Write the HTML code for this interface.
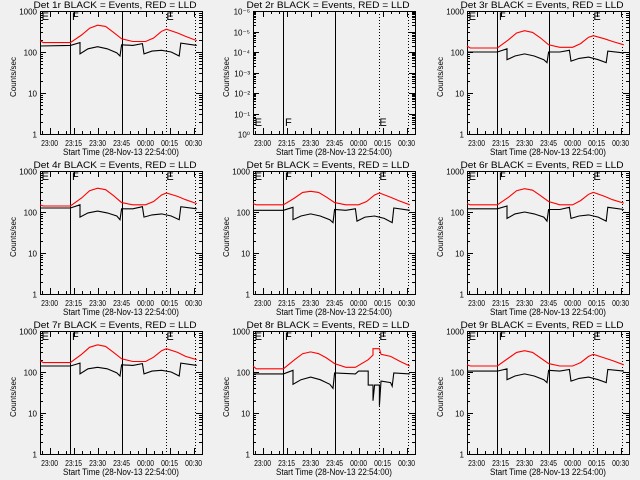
<!DOCTYPE html>
<html><head><meta charset="utf-8"><style>
html,body{margin:0;padding:0;background:#f0f0f0;}
svg{display:block;font-family:"Liberation Sans",sans-serif;}
</style></head><body>
<svg id="chart" width="640" height="480" viewBox="0 0 640 480">
<rect width="640" height="480" fill="#f0f0f0"/>
</svg>
<script>
// Time in minutes since start (22:54:00)
const xTickMinutes = [6, 21, 36, 51, 66, 81, 96];
const xTickLabels = ["23:00", "23:15", "23:30", "23:45", "00:00", "00:15", "00:30"];
const yTickValues = [1, 10, 100, 1000];
const yTickLabels = ["1", "10", "100", "1000"];
const panel2TickLabels = ["10\u2070", "10\u207B\u00B9", "10\u207B\u00B2", "10\u207B\u00B3", "10\u207B\u2074", "10\u207B\u2075", "10\u207B\u2076"];
const detNames = ["1r", "2r", "3r", "4r", "5r", "6r", "7r", "8r", "9r"];
const solidMarkers = [18.75, 51.25];
const dottedMarkers = [78.75, 96.9];
const eventLabels = ["E", "F", "E"];
const eventLabelMinutes = [1, 20, 79];

const redT = [0,2,19,26,31,36,41,46,51,58,66,71,76,79,86,91,98];
const blackT = [0,19,25,25,30,36,42,48,50,51,58,64,65,70,76,82,87,88,98];
const red1 = [190,170,170,260,380,450,420,300,210,180,180,220,320,360,290,240,190];
const black1 = [140,145,170,90,120,135,120,95,80,150,145,160,90,105,110,100,80,165,145];
const red3 = [140,125,125,200,290,330,300,220,150,130,130,160,230,250,210,180,150];
const black3 = [100,100,120,65,80,90,80,65,55,100,100,110,60,70,75,65,55,105,95];
const red4 = [150,140,140,220,330,380,350,250,170,150,150,180,260,290,240,200,160];
const black4 = [125,125,150,75,95,105,95,80,65,120,120,135,75,85,90,80,65,135,120];
const red5 = [160,150,150,220,300,320,300,230,170,150,150,180,260,290,230,190,150];
const black5 = [110,110,130,65,80,90,80,65,55,115,110,120,60,75,80,70,55,125,110];
const red6 = [160,150,150,230,330,370,340,250,180,150,150,190,270,300,240,200,165];
const black6 = [120,120,140,70,90,100,90,75,60,115,115,130,70,80,85,75,60,130,115];
const red7 = [190,170,170,270,400,460,420,300,210,180,180,230,330,370,300,240,200];
const black7 = [140,140,165,90,120,130,120,95,80,150,145,160,90,105,110,100,80,165,145];
const red9 = [150,140,140,220,300,330,300,220,160,140,140,170,240,270,220,190,150];
const black9 = [105,105,120,65,80,90,80,65,55,110,105,115,60,70,75,65,55,115,105];
const red8T = [0,2,19,26,31,36,41,46,51,58,64,72,75,75,79,80,86,92,98];
const red8 = [140,120,120,200,280,310,280,220,160,130,130,200,260,370,370,270,240,180,140];
const black8T = [0,19,25,25,30,36,42,48,50,51,64,66,72,72,75,75,76,79,79,80,86,87,88,98];
const black8 = [90,90,110,50,65,75,65,50,40,95,90,105,105,48,48,20,48,48,15,60,55,45,95,90];

const panelRed = [red1, null, red3, red4, red5, red6, red7, red8, red9];
const panelRedT = [redT, null, redT, redT, redT, redT, redT, red8T, redT];
const panelBlack = [black1, null, black3, black4, black5, black6, black7, black8, black9];
const panelBlackT = [blackT, null, blackT, blackT, blackT, blackT, blackT, black8T, blackT];

const NS = "http://www.w3.org/2000/svg";
const svg = document.getElementById("chart");
function mk(tag, attrs, parent) {
  const e = document.createElementNS(NS, tag);
  for (const k in attrs) e.setAttribute(k, attrs[k]);
  (parent || svg).appendChild(e);
  return e;
}
const colX = [0, 213, 427], rowY = [0, 160, 320];
const L = 40, R = 202, T = 11, B = 134;

for (let p = 0; p < 9; p++) {
  const ox = colX[p % 3], oy = rowY[Math.floor(p / 3)];
  const g = mk("g", {});
  
  
  const xs = m => ox + L + m * 1.6;
  const isP2 = p === 1;
  const decades = isP2 ? 6 : 3;
  const dpx = (B - T) / decades;
  const ys = v => oy + B - Math.log10(v) * dpx;

  const title = mk("text", {x: ox + 115, y: oy + 8, "font-size": 9.5, "text-anchor": "middle", fill: "#000", textLength: 163, lengthAdjust: "spacingAndGlyphs"}, g);
  title.textContent = "Det " + detNames[p] + " BLACK = Events, RED = LLD";
  
  

  const box = mk("rect", {x: ox + L + 0.5, y: oy + T + 0.5, width: R - L, height: B - T, fill: "none", stroke: "#000", "stroke-width": 1}, g);
  
  

  for (let d = 0; d <= decades; d++) {
    const y = Math.round(oy + B - d * dpx) + 0.5;
    mk("line", {x1: ox + L, x2: ox + L + 6, y1: y, y2: y, stroke: "#000"}, g);
    mk("line", {x1: ox + R - 6, x2: ox + R, y1: y, y2: y, stroke: "#000"}, g);
    const lab = mk("text", {x: ox + L - 3, y: y + 3, "font-size": 8, "text-anchor": "end", fill: "#000"}, g);
    lab.textContent = isP2 ? panel2TickLabels[d] : yTickLabels[d];
    
    
    if (d < decades) {
      for (let k = 2; k <= 9; k++) {
        const yy = Math.round(oy + B - (d + Math.log10(k)) * dpx) + 0.5;
        mk("line", {x1: ox + L, x2: ox + L + 3, y1: yy, y2: yy, stroke: "#000"}, g);
        mk("line", {x1: ox + R - 3, x2: ox + R, y1: yy, y2: yy, stroke: "#000"}, g);
      }
    }
  }
  for (let m = 1; m <= 101; m += 5) {
    const x = Math.round(xs(m)) + 0.5;
    const major = xTickMinutes.includes(m);
    const len = major ? 6 : 3;
    mk("line", {x1: x, x2: x, y1: oy + B, y2: oy + B - len, stroke: "#000"}, g);
    mk("line", {x1: x, x2: x, y1: oy + T, y2: oy + T + len, stroke: "#000"}, g);
  }
  xTickMinutes.forEach((m, i) => {
    const lab = mk("text", {x: xs(m), y: oy + 146, "font-size": 8, "text-anchor": "middle", fill: "#000", textLength: 17, lengthAdjust: "spacingAndGlyphs"}, g);
    lab.textContent = xTickLabels[i];
    
    
  });
  const xt = mk("text", {x: ox + 121, y: oy + 155, "font-size": 9, "text-anchor": "middle", fill: "#000", textLength: 116, lengthAdjust: "spacingAndGlyphs"}, g);
  xt.textContent = "Start Time (28-Nov-13 22:54:00)";
  
  
  const yt = mk("text", {x: 0, y: 0, "font-size": 8, "text-anchor": "middle", fill: "#000", transform: "translate(" + (ox + 16) + "," + (oy + 77) + ") rotate(-90)"}, g);
  yt.textContent = "Counts/sec";
  
  

  solidMarkers.forEach(m => {
    const x = Math.round(xs(m)) + 0.5;
    const ln = mk("line", {x1: x, x2: x, y1: oy + T, y2: oy + B, stroke: "#000", "stroke-width": 1}, g);
    
    
  });
  dottedMarkers.forEach(m => {
    const x = Math.round(xs(m)) + 0.5;
    const ln = mk("line", {x1: x, x2: x, y1: oy + T, y2: oy + B, stroke: "#000", "stroke-width": 1, "stroke-dasharray": "1,2"}, g);
    
    
  });
  eventLabels.forEach((s, i) => {
    const t = mk("text", {x: xs(eventLabelMinutes[i]), y: isP2 ? oy + 126 : oy + 20, "font-size": 11, fill: "#000"}, g);
    t.textContent = s;
    
    
  });

  const drawSeries = (tArr, vArr, color, name) => {
    if (!vArr) return;
    let d = "";
    tArr.forEach((m, i) => {
      d += (i ? "L" : "M") + xs(m).toFixed(1) + "," + ys(vArr[i]).toFixed(1);
    });
    const path = mk("path", {d: d, fill: "none", stroke: color, "stroke-width": 1.1}, g);
    
    
  };
  drawSeries(panelRedT[p], panelRed[p], "#ff0000", "lld-series-red");
  drawSeries(panelBlackT[p], panelBlack[p], "#000000", "events-series-black");
}
</script>
</body></html>
